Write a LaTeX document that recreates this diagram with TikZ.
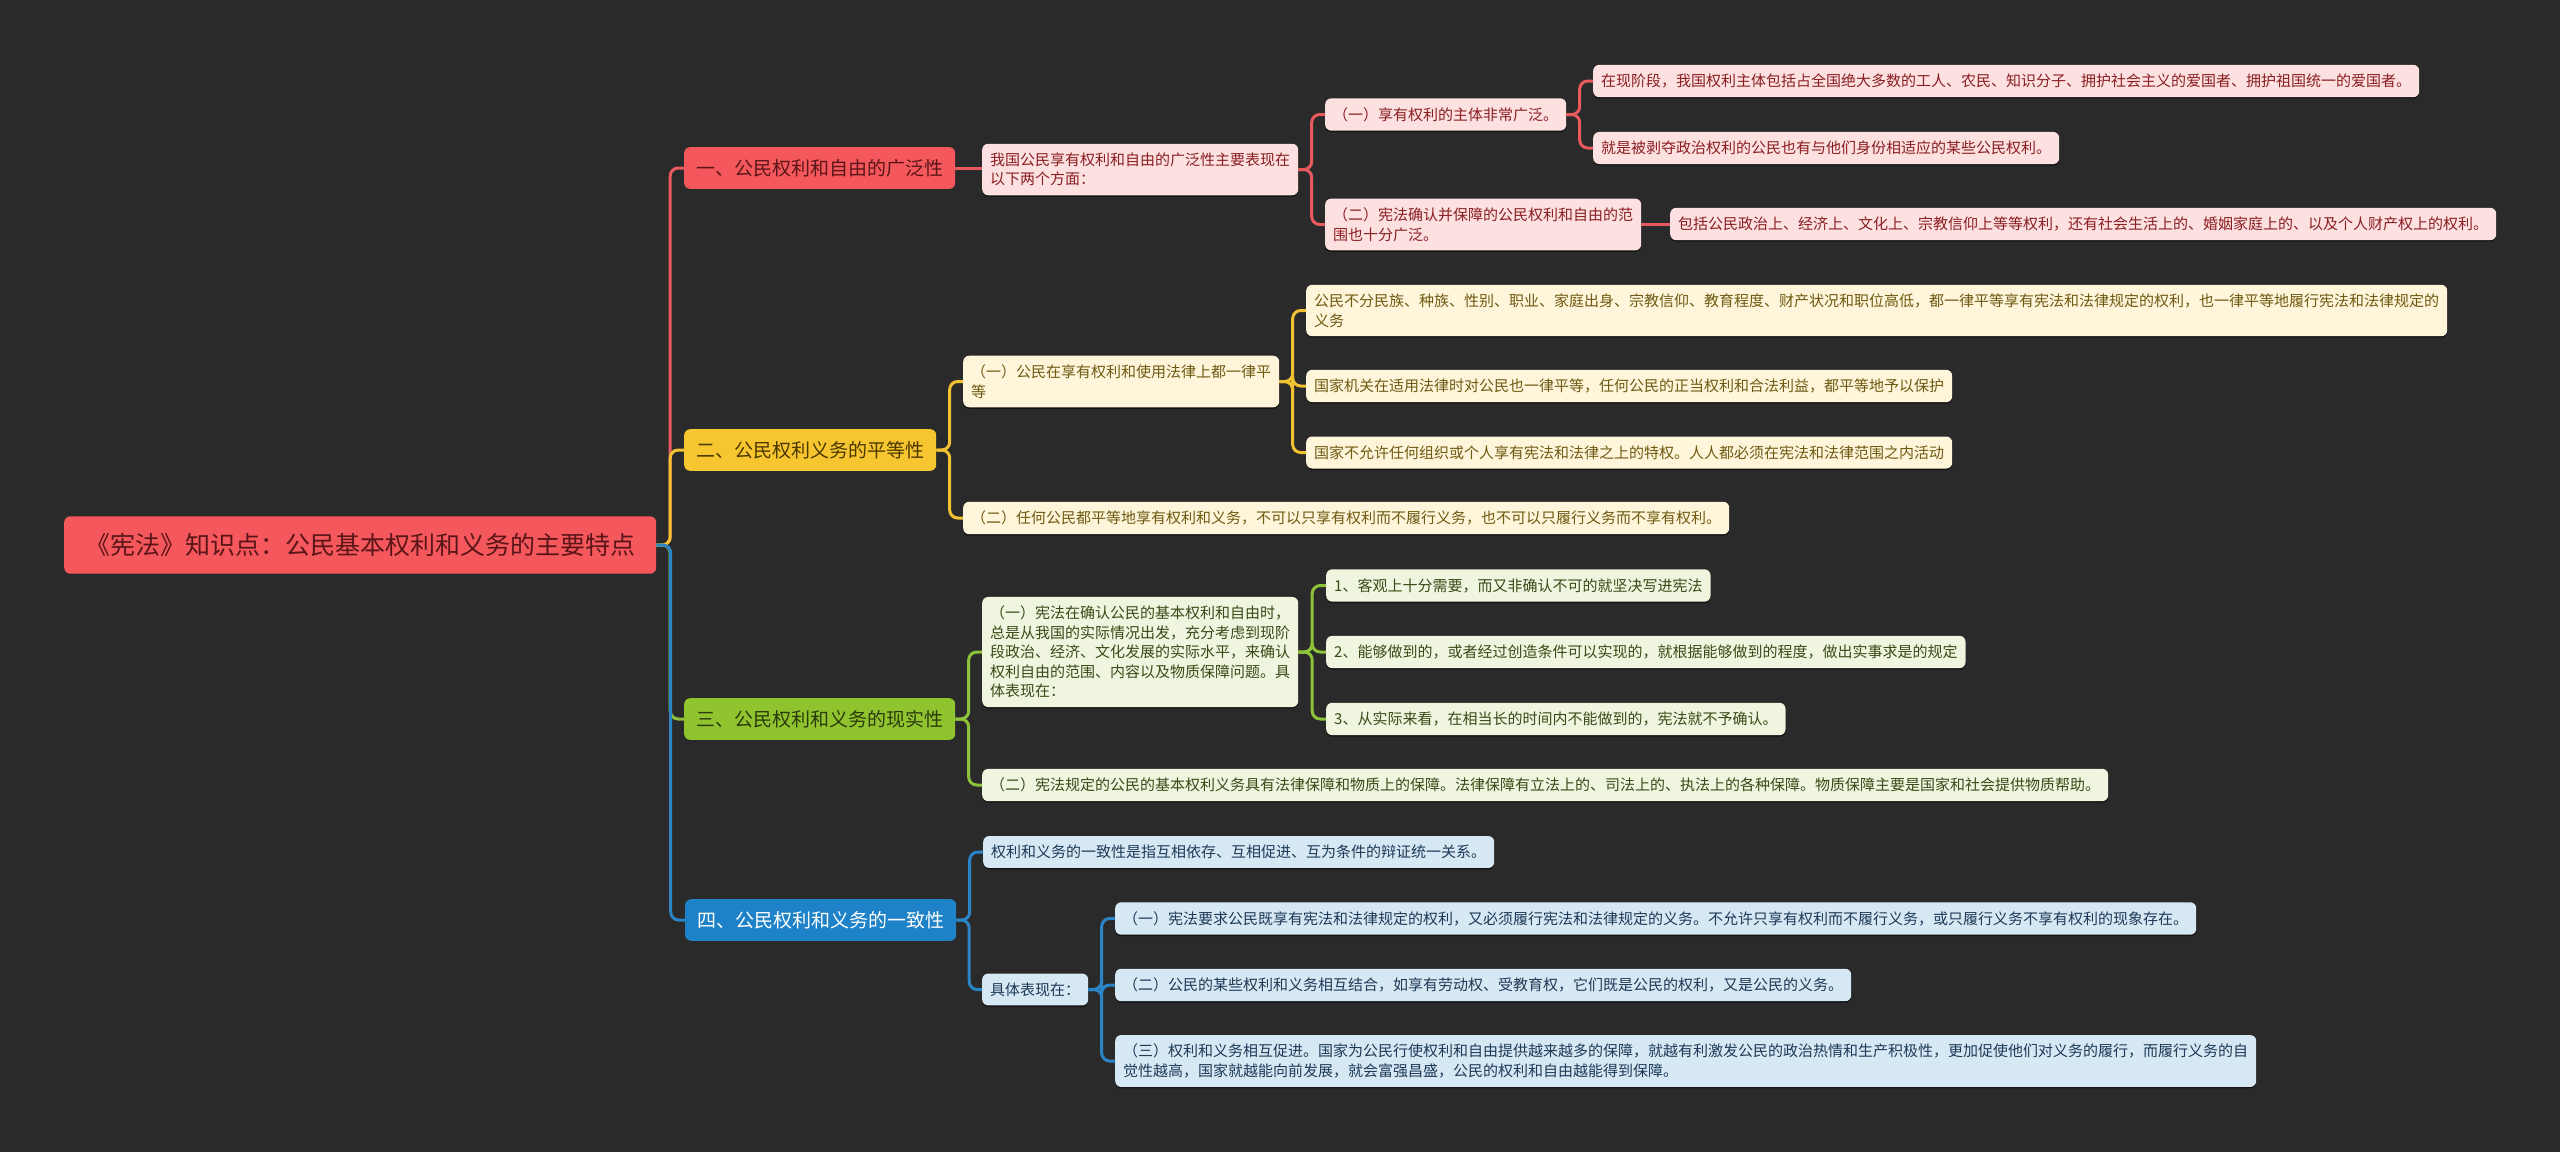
\documentclass[tikz,border=0pt]{standalone}
\usepackage{fontspec}
\newfontfamily\cjk{Noto Sans CJK SC}
\usetikzlibrary{calc,shadows}
\definecolor{bg}{HTML}{2A2A2A}
\definecolor{rMain}{HTML}{F5585C}
\definecolor{rTxt}{HTML}{5A1518}
\definecolor{rFill}{HTML}{FDE1E1}
\definecolor{rTxt2}{HTML}{8A1E22}
\definecolor{rLine}{HTML}{E85A5E}
\definecolor{yMain}{HTML}{F7C52F}
\definecolor{yTxt}{HTML}{4A3800}
\definecolor{yFill}{HTML}{FFF5DA}
\definecolor{yTxt2}{HTML}{6E5A12}
\definecolor{yLine}{HTML}{F2C232}
\definecolor{gMain}{HTML}{8FC42F}
\definecolor{gTxt}{HTML}{2B3A0C}
\definecolor{gFill}{HTML}{EFF5DE}
\definecolor{gTxt2}{HTML}{3A4A18}
\definecolor{gLine}{HTML}{8DC23A}
\definecolor{bMain}{HTML}{1E82C8}
\definecolor{bFill}{HTML}{D5E8F4}
\definecolor{bTxt2}{HTML}{1E3A56}
\definecolor{bLine}{HTML}{2A84C6}
\newcommand\mconn[3]{\draw[#1] (#2.east) -| ($(#2.east)!0.5!(#3.west)$) |- (#3.west);}
\newcommand\sconn[3]{\draw[#1] (#2.east) -- (#2.east -| #3.west);}
\begin{document}
\begin{tikzpicture}[x=1pt,y=-1pt,
  small/.style={rounded corners=6pt, anchor=west, align=left,
    font=\cjk\fontsize{15}{19.5}\selectfont, inner xsep=8pt, inner ysep=9pt,
    drop shadow={shadow xshift=0pt,shadow yshift=-1.5pt,opacity=0.55,fill=black}},
  lone/.style={rounded corners=6pt, anchor=west, align=left,
    font=\cjk\fontsize{19}{23}\selectfont, inner xsep=12pt, inner ysep=12pt},
  rs/.style={small, fill=rFill, text=rTxt2},
  ys/.style={small, fill=yFill, text=yTxt2},
  gs/.style={small, fill=gFill, text=gTxt2},
  bs/.style={small, fill=bFill, text=bTxt2},
  lnk/.style={line width=3pt, rounded corners=8pt},
  rl/.style={lnk, draw=rLine},
  yl/.style={lnk, draw=yLine},
  gl/.style={lnk, draw=gLine},
  bl/.style={lnk, draw=bLine}]
\fill[bg] (0,0) rectangle (2560,1152);
\useasboundingbox (0,0) rectangle (2560,1152);

% root
\node[rounded corners=6pt, anchor=west, fill=rMain, text=rTxt,
  font=\cjk\fontsize{25}{30}\selectfont, inner xsep=21pt, inner ysep=17pt] (root) at (64,545)
  {《宪法》知识点：公民基本权利和义务的主要特点};

% level 1
\node[lone, fill=rMain, text=rTxt] (A) at (684,168) {一、公民权利和自由的广泛性};
\node[lone, fill=yMain, text=yTxt] (B) at (684,450) {二、公民权利义务的平等性};
\node[lone, fill=gMain, text=gTxt] (C) at (684,719) {三、公民权利和义务的现实性};
\node[lone, fill=bMain, text=white] (D) at (685,920) {四、公民权利和义务的一致性};

% branch A
\node[rs] (A1) at (982,169.5) {我国公民享有权利和自由的广泛性主要表现在\\以下两个方面：};
\node[rs] (A11) at (1325,114.5) {（一）享有权利的主体非常广泛。};
\node[rs] (A12) at (1325,224.5) {（二）宪法确认并保障的公民权利和自由的范\\围也十分广泛。};
\node[rs] (A111) at (1593,81) {在现阶段，我国权利主体包括占全国绝大多数的工人、农民、知识分子、拥护社会主义的爱国者、拥护祖国统一的爱国者。};
\node[rs] (A112) at (1593,148) {就是被剥夺政治权利的公民也有与他们身份相适应的某些公民权利。};
\node[rs] (A121) at (1670,224) {包括公民政治上、经济上、文化上、宗教信仰上等等权利，还有社会生活上的、婚姻家庭上的、以及个人财产权上的权利。};

% branch B
\node[ys] (B1) at (963,381.5) {（一）公民在享有权利和使用法律上都一律平\\等};
\node[ys] (B2) at (963,518) {（二）任何公民都平等地享有权利和义务，不可以只享有权利而不履行义务，也不可以只履行义务而不享有权利。};
\node[ys] (B11) at (1306,310.5) {公民不分民族、种族、性别、职业、家庭出身、宗教信仰、教育程度、财产状况和职位高低，都一律平等享有宪法和法律规定的权利，也一律平等地履行宪法和法律规定的\\义务};
\node[ys] (B12) at (1306,386) {国家机关在适用法律时对公民也一律平等，任何公民的正当权利和合法利益，都平等地予以保护};
\node[ys] (B13) at (1306,452.5) {国家不允许任何组织或个人享有宪法和法律之上的特权。人人都必须在宪法和法律范围之内活动};

% branch C
\node[gs] (C1) at (982,652) {（一）宪法在确认公民的基本权利和自由时，\\总是从我国的实际情况出发，充分考虑到现阶\\段政治、经济、文化发展的实际水平，来确认\\权利自由的范围、内容以及物质保障问题。具\\体表现在：};
\node[gs] (C2) at (982,785) {（二）宪法规定的公民的基本权利义务具有法律保障和物质上的保障。法律保障有立法上的、司法上的、执法上的各种保障。物质保障主要是国家和社会提供物质帮助。};
\node[gs] (C11) at (1326,585.5) {1、客观上十分需要，而又非确认不可的就坚决写进宪法};
\node[gs] (C12) at (1326,652) {2、能够做到的，或者经过创造条件可以实现的，就根据能够做到的程度，做出实事求是的规定};
\node[gs] (C13) at (1326,719) {3、从实际来看，在相当长的时间内不能做到的，宪法就不予确认。};

% branch D
\node[bs] (D1) at (983,852) {权利和义务的一致性是指互相依存、互相促进、互为条件的辩证统一关系。};
\node[bs] (D2) at (982,989.5) {具体表现在：};
\node[bs] (D21) at (1115,918.5) {（一）宪法要求公民既享有宪法和法律规定的权利，又必须履行宪法和法律规定的义务。不允许只享有权利而不履行义务，或只履行义务不享有权利的现象存在。};
\node[bs] (D22) at (1115,985) {（二）公民的某些权利和义务相互结合，如享有劳动权、受教育权，它们既是公民的权利，又是公民的义务。};
\node[bs] (D23) at (1115,1061) {（三）权利和义务相互促进。国家为公民行使权利和自由提供越来越多的保障，就越有利激发公民的政治热情和生产积极性，更加促使他们对义务的履行，而履行义务的自\\觉性越高，国家就越能向前发展，就会富强昌盛，公民的权利和自由越能得到保障。};

% connectors
\begin{scope}[on background layer/.style={}]
\end{scope}
\mconn{rl}{root}{A}
\mconn{yl}{root}{B}
\mconn{gl}{root}{C}
\mconn{bl}{root}{D}

\sconn{rl}{A}{A1}
\mconn{rl}{A1}{A11}
\mconn{rl}{A1}{A12}
\mconn{rl}{A11}{A111}
\mconn{rl}{A11}{A112}
\sconn{rl}{A12}{A121}

\mconn{yl}{B}{B1}
\mconn{yl}{B}{B2}
\mconn{yl}{B1}{B11}
\mconn{yl}{B1}{B12}
\mconn{yl}{B1}{B13}

\mconn{gl}{C}{C1}
\mconn{gl}{C}{C2}
\mconn{gl}{C1}{C11}
\mconn{gl}{C1}{C12}
\mconn{gl}{C1}{C13}

\mconn{bl}{D}{D1}
\mconn{bl}{D}{D2}
\mconn{bl}{D2}{D21}
\mconn{bl}{D2}{D22}
\mconn{bl}{D2}{D23}
\end{tikzpicture}
\end{document}
